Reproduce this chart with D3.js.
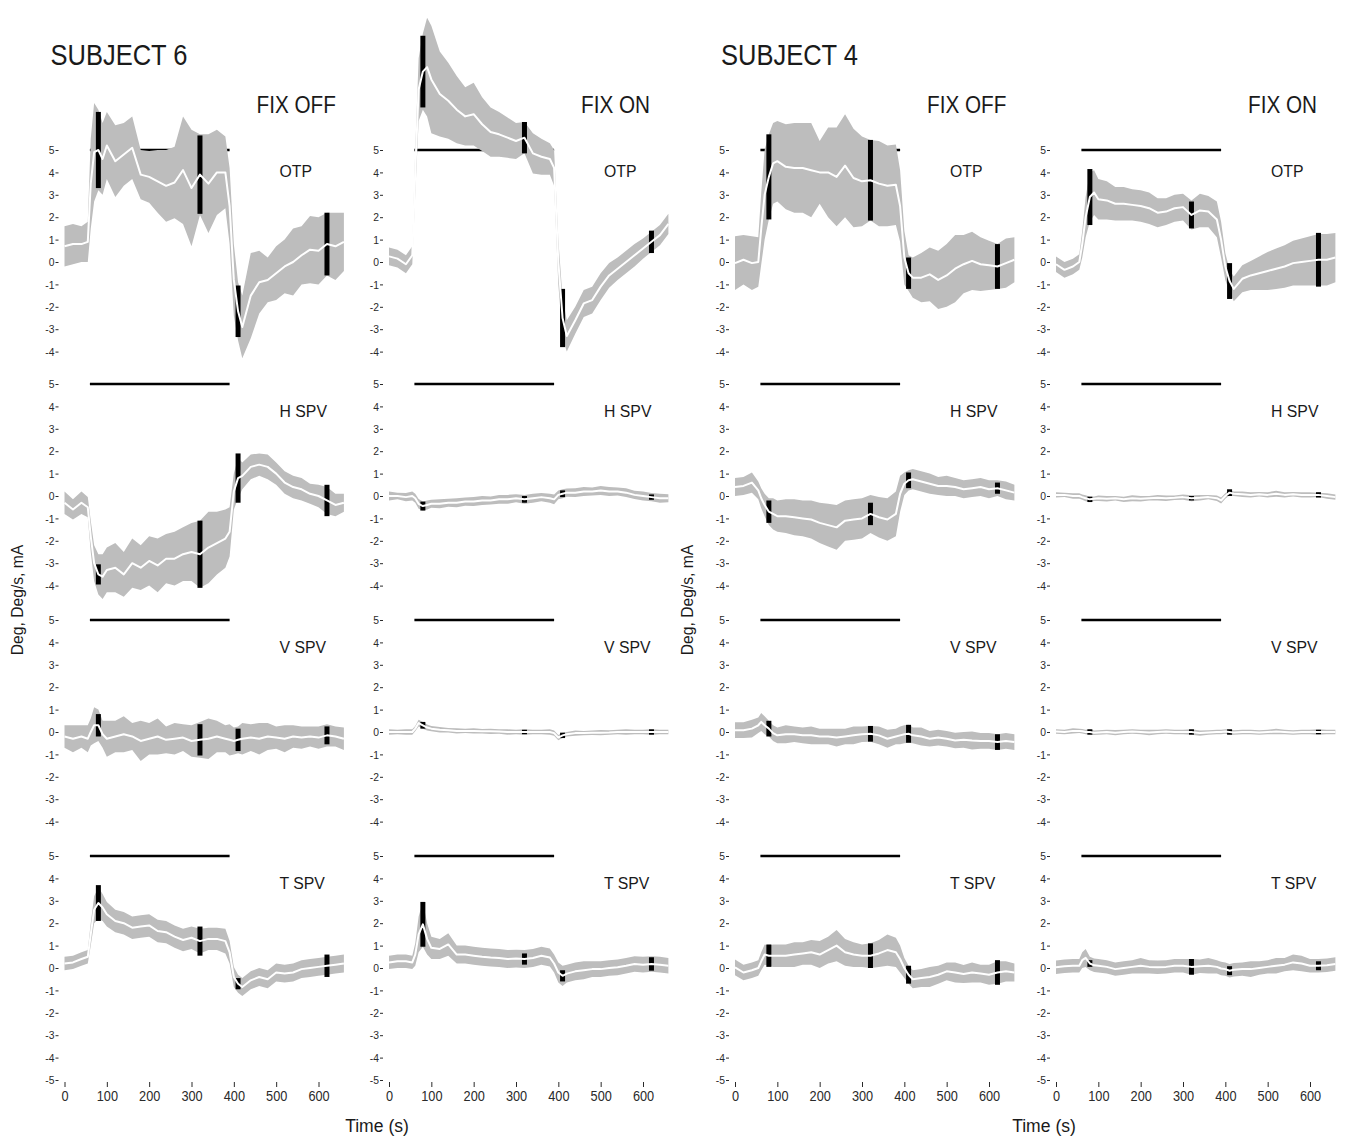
<!DOCTYPE html>
<html>
<head>
<meta charset="utf-8">
<script src="https://cdn.jsdelivr.net/npm/d3@7"></script>
<style>
  body { margin: 0; background: #fff; }
  svg { display: block; }
</style>
</head>
<body>
<div id="chart"></div>
<script>
// sample times (s), shared by every trace
const TIME = [0, 20, 40, 55, 62, 70, 80, 90, 100, 120, 140, 160, 180, 200, 220, 240, 260, 280, 300, 320,
  340, 360, 380, 390, 400, 410, 420, 440, 460, 480, 500, 520, 540, 560, 580, 600, 620, 640, 660];
// times at which the black SD bars are drawn (must be in TIME)
const BAR_TIMES = [80, 320, 410, 620];
const STIM = [60, 390];
const X_TICKS = [0, 100, 200, 300, 400, 500, 600];
const SUBJECTS = ['SUBJECT 6', 'SUBJECT 4'];
const CONDITIONS = ['FIX OFF', 'FIX ON', 'FIX OFF', 'FIX ON'];
const MEASURES = ['OTP', 'H SPV', 'V SPV', 'T SPV'];

// Subject 6, fixation off
const S6_OFF_OTP_MEAN = [0.7, 0.8, 0.8, 0.9, 3.5, 4.9, 5.0, 4.6, 5.2, 4.5, 4.8, 5.1, 3.9, 3.8, 3.6, 3.4, 3.55, 4.1, 3.3, 3.9, 3.5, 4.0, 4.0, 2.5, -0.8, -2.2, -2.9, -1.5, -0.9, -0.8, -0.5, -0.2, 0.0, 0.3, 0.55, 0.5, 0.8, 0.7, 0.9];
const S6_OFF_OTP_SD = [0.9, 0.9, 0.8, 0.9, 2.0, 2.2, 1.8, 1.6, 1.5, 1.6, 1.4, 1.4, 1.1, 1.15, 1.4, 1.6, 1.6, 2.4, 2.6, 1.8, 2.2, 1.9, 1.6, 1.7, 1.6, 1.3, 1.4, 1.9, 1.4, 1.0, 1.2, 1.2, 1.5, 1.3, 1.5, 1.5, 1.4, 1.5, 1.3];
const S6_OFF_OTP_BAR = [1.7, 1.75, 1.15, 1.4];
const S6_OFF_H_MEAN = [-0.3, -0.6, -0.3, -0.5, -1.8, -3.0, -3.5, -3.6, -3.3, -3.2, -3.5, -3.0, -3.2, -2.9, -3.1, -2.8, -2.8, -2.6, -2.5, -2.6, -2.3, -2.1, -1.9, -1.6, 0.2, 0.8, 0.9, 1.3, 1.4, 1.3, 1.0, 0.6, 0.4, 0.3, 0.1, 0.0, -0.2, -0.4, -0.3];
const S6_OFF_H_SD = [0.5, 0.45, 0.5, 0.45, 0.7, 0.8, 0.9, 1.0, 1.0, 1.1, 1.0, 1.1, 1.0, 1.1, 1.2, 1.1, 1.2, 1.2, 1.3, 1.5, 1.6, 1.4, 1.3, 1.1, 0.8, 0.9, 0.6, 0.55, 0.5, 0.55, 0.5, 0.5, 0.5, 0.5, 0.45, 0.5, 0.6, 0.5, 0.4];
const S6_OFF_H_BAR = [0.45, 1.5, 1.1, 0.7];
const S6_OFF_V_MEAN = [-0.2, -0.3, -0.2, -0.3, 0.0, 0.3, 0.3, -0.1, -0.3, -0.2, -0.1, -0.2, -0.4, -0.3, -0.2, -0.35, -0.3, -0.25, -0.4, -0.35, -0.3, -0.2, -0.3, -0.35, -0.4, -0.35, -0.3, -0.25, -0.3, -0.2, -0.25, -0.3, -0.2, -0.25, -0.2, -0.25, -0.15, -0.2, -0.3];
const S6_OFF_V_SD = [0.5, 0.6, 0.5, 0.6, 0.6, 0.8, 0.7, 0.6, 0.8, 0.7, 0.8, 0.6, 0.9, 0.7, 0.8, 0.6, 0.7, 0.6, 0.7, 0.8, 0.9, 0.7, 0.6, 0.7, 0.6, 0.6, 0.7, 0.6, 0.7, 0.6, 0.5, 0.6, 0.5, 0.5, 0.45, 0.5, 0.5, 0.45, 0.5];
const S6_OFF_V_BAR = [0.5, 0.7, 0.5, 0.4];
const S6_OFF_T_MEAN = [0.2, 0.25, 0.4, 0.5, 1.5, 2.6, 2.9, 2.7, 2.4, 2.1, 2.0, 1.8, 1.85, 1.9, 1.65, 1.6, 1.4, 1.25, 1.35, 1.2, 1.3, 1.3, 1.2, 0.7, -0.4, -0.7, -0.85, -0.55, -0.4, -0.5, -0.2, -0.25, -0.2, -0.05, 0.0, 0.05, 0.1, 0.15, 0.2];
const S6_OFF_T_SD = [0.3, 0.3, 0.3, 0.3, 0.5, 0.6, 0.7, 0.6, 0.55, 0.5, 0.5, 0.5, 0.5, 0.5, 0.5, 0.5, 0.5, 0.5, 0.5, 0.55, 0.5, 0.5, 0.55, 0.5, 0.45, 0.4, 0.4, 0.4, 0.4, 0.4, 0.4, 0.4, 0.4, 0.4, 0.4, 0.4, 0.4, 0.4, 0.4];
const S6_OFF_T_BAR = [0.8, 0.65, 0.25, 0.5];

// Subject 6, fixation on
const S6_ON_OTP_MEAN = [0.25, 0.15, -0.1, 0.3, 4.0, 7.7, 8.5, 8.7, 8.15, 7.5, 7.2, 6.8, 6.5, 6.6, 6.15, 5.8, 5.7, 5.55, 5.4, 5.55, 4.85, 4.7, 4.6, 4.2, 0.0, -2.5, -3.3, -2.6, -1.85, -1.7, -1.1, -0.6, -0.3, 0.0, 0.3, 0.6, 0.9, 1.2, 1.7];
const S6_ON_OTP_SD = [0.4, 0.4, 0.4, 0.4, 1.0, 1.4, 1.7, 2.2, 2.4, 1.9, 1.7, 1.5, 1.3, 1.4, 1.2, 1.1, 1.0, 0.9, 0.8, 0.7, 0.9, 0.8, 0.7, 0.8, 1.0, 0.9, 0.7, 0.6, 0.6, 0.6, 0.6, 0.55, 0.5, 0.5, 0.5, 0.45, 0.45, 0.45, 0.45];
const S6_ON_OTP_BAR = [1.6, 0.7, 1.3, 0.5];
const S6_ON_H_MEAN = [0.0, 0.0, -0.05, 0.0, -0.1, -0.35, -0.45, -0.4, -0.35, -0.35, -0.3, -0.3, -0.25, -0.25, -0.2, -0.2, -0.15, -0.15, -0.1, -0.15, -0.1, -0.05, -0.1, -0.15, 0.05, 0.1, 0.15, 0.15, 0.2, 0.2, 0.25, 0.2, 0.2, 0.15, 0.05, 0.0, -0.05, -0.1, -0.1];
const S6_ON_H_SD = [0.2, 0.15, 0.18, 0.2, 0.2, 0.22, 0.2, 0.2, 0.18, 0.2, 0.18, 0.2, 0.18, 0.2, 0.2, 0.18, 0.2, 0.2, 0.18, 0.2, 0.2, 0.18, 0.2, 0.22, 0.2, 0.2, 0.18, 0.2, 0.2, 0.18, 0.2, 0.2, 0.18, 0.2, 0.18, 0.2, 0.18, 0.2, 0.18];
const S6_ON_H_BAR = [0.2, 0.15, 0.15, 0.12];
const S6_ON_V_MEAN = [0.0, 0.0, 0.0, 0.0, 0.15, 0.4, 0.3, 0.2, 0.15, 0.1, 0.08, 0.05, 0.05, 0.05, 0.03, 0.03, 0.02, 0.0, 0.0, 0.0, 0.0, 0.0, 0.0, -0.05, -0.25, -0.15, -0.1, -0.05, -0.05, -0.03, -0.03, -0.02, 0.0, 0.0, 0.0, 0.0, 0.0, 0.0, 0.0];
const S6_ON_V_SD = [0.12, 0.1, 0.12, 0.12, 0.12, 0.15, 0.15, 0.13, 0.12, 0.12, 0.1, 0.12, 0.1, 0.12, 0.1, 0.12, 0.1, 0.12, 0.1, 0.12, 0.1, 0.1, 0.12, 0.12, 0.12, 0.12, 0.1, 0.12, 0.1, 0.1, 0.12, 0.1, 0.1, 0.12, 0.1, 0.1, 0.12, 0.1, 0.1];
const S6_ON_V_BAR = [0.15, 0.1, 0.12, 0.12];
const S6_ON_T_MEAN = [0.25, 0.3, 0.3, 0.25, 0.6, 1.5, 1.95, 1.3, 0.9, 0.85, 1.05, 0.6, 0.6, 0.55, 0.5, 0.47, 0.45, 0.4, 0.42, 0.4, 0.45, 0.55, 0.47, 0.2, -0.2, -0.35, -0.25, -0.15, -0.1, -0.05, -0.05, 0.0, 0.03, 0.1, 0.18, 0.15, 0.18, 0.15, 0.1];
const S6_ON_T_SD = [0.3, 0.3, 0.3, 0.3, 0.5, 0.8, 1.0, 0.7, 0.5, 0.45, 0.5, 0.4, 0.4, 0.4, 0.4, 0.4, 0.4, 0.4, 0.4, 0.4, 0.4, 0.4, 0.4, 0.4, 0.45, 0.45, 0.4, 0.4, 0.4, 0.35, 0.35, 0.35, 0.35, 0.35, 0.35, 0.35, 0.35, 0.35, 0.35];
const S6_ON_T_BAR = [1.0, 0.25, 0.25, 0.3];

// Subject 4, fixation off
const S4_OFF_OTP_MEAN = [-0.05, 0.1, -0.05, 0.0, 1.5, 3.0, 3.8, 4.4, 4.5, 4.25, 4.2, 4.2, 4.1, 4.0, 4.0, 3.8, 4.3, 3.75, 3.6, 3.65, 3.5, 3.4, 3.45, 2.5, 0.2, -0.5, -0.7, -0.7, -0.55, -0.8, -0.6, -0.3, -0.1, 0.05, -0.1, -0.15, -0.2, -0.05, 0.1];
const S4_OFF_OTP_SD = [1.2, 1.1, 1.2, 1.1, 1.6, 2.0, 1.9, 1.8, 1.8, 1.9, 2.0, 2.0, 2.1, 1.4, 2.0, 2.2, 2.3, 2.2, 2.0, 1.8, 1.9, 1.8, 1.8, 1.6, 1.2, 0.8, 0.9, 1.1, 1.2, 1.3, 1.4, 1.5, 1.3, 1.3, 1.2, 1.1, 1.0, 1.1, 1.0];
const S4_OFF_OTP_BAR = [1.9, 1.8, 0.7, 1.0];
const S4_OFF_H_MEAN = [0.4, 0.45, 0.6, 0.25, -0.1, -0.4, -0.7, -0.8, -0.9, -0.9, -0.95, -1.0, -1.05, -1.2, -1.3, -1.4, -1.1, -1.05, -1.0, -0.8, -0.95, -1.05, -0.8, 0.1, 0.55, 0.7, 0.75, 0.65, 0.55, 0.45, 0.45, 0.4, 0.3, 0.35, 0.4, 0.3, 0.35, 0.25, 0.15];
const S4_OFF_H_SD = [0.4, 0.4, 0.45, 0.4, 0.45, 0.5, 0.6, 0.7, 0.7, 0.75, 0.8, 0.8, 0.85, 0.9, 0.95, 1.0, 0.9, 0.9, 0.9, 0.85, 0.9, 0.95, 1.0, 0.8, 0.5, 0.45, 0.45, 0.45, 0.45, 0.4, 0.45, 0.4, 0.4, 0.4, 0.4, 0.4, 0.35, 0.4, 0.35];
const S4_OFF_H_BAR = [0.5, 0.5, 0.35, 0.25];
const S4_OFF_V_MEAN = [0.08, 0.08, 0.15, 0.3, 0.45, 0.3, 0.15, -0.05, -0.15, -0.1, -0.1, -0.15, -0.15, -0.2, -0.2, -0.25, -0.2, -0.15, -0.1, -0.08, -0.15, -0.3, -0.2, -0.15, -0.1, -0.08, -0.15, -0.2, -0.3, -0.25, -0.3, -0.38, -0.35, -0.38, -0.4, -0.4, -0.45, -0.4, -0.45];
const S4_OFF_V_SD = [0.35, 0.35, 0.4, 0.35, 0.4, 0.4, 0.35, 0.35, 0.35, 0.4, 0.35, 0.35, 0.4, 0.35, 0.35, 0.4, 0.35, 0.4, 0.35, 0.35, 0.4, 0.4, 0.35, 0.4, 0.4, 0.4, 0.35, 0.4, 0.35, 0.35, 0.35, 0.35, 0.35, 0.4, 0.35, 0.35, 0.35, 0.35, 0.35];
const S4_OFF_V_BAR = [0.35, 0.35, 0.4, 0.35];
const S4_OFF_T_MEAN = [0.03, -0.2, -0.1, 0.0, 0.3, 0.6, 0.55, 0.55, 0.55, 0.55, 0.6, 0.65, 0.7, 0.6, 0.8, 1.0, 0.7, 0.6, 0.55, 0.55, 0.65, 0.8, 0.7, 0.4, 0.0, -0.3, -0.5, -0.45, -0.4, -0.3, -0.15, -0.2, -0.27, -0.2, -0.25, -0.3, -0.2, -0.15, -0.2];
const S4_OFF_T_SD = [0.35, 0.35, 0.35, 0.35, 0.4, 0.45, 0.45, 0.5, 0.5, 0.5, 0.55, 0.5, 0.55, 0.6, 0.6, 0.7, 0.6, 0.55, 0.5, 0.55, 0.6, 0.7, 0.65, 0.6, 0.45, 0.4, 0.4, 0.4, 0.45, 0.4, 0.4, 0.45, 0.4, 0.45, 0.4, 0.45, 0.5, 0.45, 0.4];
const S4_OFF_T_BAR = [0.5, 0.55, 0.4, 0.55];

// Subject 4, fixation on
const S4_ON_OTP_MEAN = [-0.1, -0.35, -0.2, 0.0, 0.8, 2.0, 2.9, 3.1, 2.8, 2.75, 2.6, 2.6, 2.55, 2.5, 2.4, 2.2, 2.25, 2.4, 2.45, 2.1, 2.3, 2.25, 1.9, 1.0, -0.2, -0.85, -1.2, -0.75, -0.6, -0.5, -0.4, -0.3, -0.2, -0.05, 0.0, 0.05, 0.1, 0.1, 0.2];
const S4_ON_OTP_SD = [0.35, 0.35, 0.35, 0.35, 0.6, 0.9, 1.1, 1.0, 0.9, 0.85, 0.75, 0.75, 0.7, 0.7, 0.7, 0.65, 0.6, 0.6, 0.6, 0.65, 0.75, 0.7, 0.8, 0.8, 0.6, 0.5, 0.55, 0.6, 0.65, 0.75, 0.85, 0.9, 0.95, 1.0, 1.05, 1.1, 1.15, 1.15, 1.1];
const S4_ON_OTP_BAR = [1.25, 0.6, 0.8, 1.2];
const S4_ON_H_MEAN = [0.05, 0.05, 0.0, 0.0, -0.05, -0.1, -0.15, -0.12, -0.1, -0.12, -0.1, -0.15, -0.1, -0.12, -0.1, -0.08, -0.1, -0.08, -0.05, -0.1, -0.08, -0.05, -0.1, -0.2, 0.0, 0.15, 0.1, 0.08, 0.05, 0.08, 0.05, 0.1, 0.05, 0.08, 0.05, 0.05, 0.05, 0.0, -0.05];
const S4_ON_H_SD = [0.12, 0.1, 0.12, 0.12, 0.12, 0.13, 0.12, 0.1, 0.12, 0.12, 0.1, 0.12, 0.13, 0.12, 0.1, 0.12, 0.12, 0.1, 0.12, 0.13, 0.12, 0.1, 0.12, 0.13, 0.12, 0.12, 0.1, 0.12, 0.12, 0.1, 0.12, 0.13, 0.12, 0.1, 0.12, 0.12, 0.1, 0.12, 0.12];
const S4_ON_H_BAR = [0.12, 0.1, 0.15, 0.12];
const S4_ON_V_MEAN = [0.02, 0.0, 0.05, 0.05, 0.03, 0.0, 0.0, -0.03, -0.02, 0.0, -0.03, 0.0, 0.02, 0.0, -0.02, 0.0, 0.02, 0.0, 0.0, 0.0, -0.05, -0.02, 0.0, 0.0, 0.02, 0.0, -0.02, 0.0, 0.0, -0.02, 0.0, 0.02, 0.0, -0.02, 0.0, 0.0, 0.0, 0.0, 0.0];
const S4_ON_V_SD = [0.1, 0.1, 0.12, 0.1, 0.1, 0.1, 0.12, 0.1, 0.1, 0.1, 0.12, 0.1, 0.1, 0.1, 0.12, 0.1, 0.1, 0.1, 0.1, 0.12, 0.12, 0.1, 0.1, 0.1, 0.1, 0.12, 0.1, 0.1, 0.1, 0.1, 0.1, 0.12, 0.1, 0.1, 0.1, 0.1, 0.12, 0.1, 0.1];
const S4_ON_V_BAR = [0.12, 0.12, 0.12, 0.1];
const S4_ON_T_MEAN = [0.03, 0.08, 0.1, 0.1, 0.35, 0.45, 0.2, 0.12, 0.1, 0.05, -0.05, 0.0, 0.05, 0.1, 0.05, 0.03, 0.05, 0.1, 0.1, 0.05, 0.08, 0.1, 0.05, -0.02, -0.05, -0.12, -0.08, -0.05, -0.05, 0.0, 0.05, 0.1, 0.15, 0.25, 0.2, 0.1, 0.1, 0.12, 0.18];
const S4_ON_T_SD = [0.3, 0.3, 0.3, 0.3, 0.35, 0.4, 0.3, 0.3, 0.3, 0.3, 0.3, 0.3, 0.3, 0.35, 0.3, 0.3, 0.3, 0.3, 0.3, 0.35, 0.3, 0.35, 0.3, 0.3, 0.3, 0.3, 0.3, 0.3, 0.35, 0.3, 0.3, 0.35, 0.3, 0.35, 0.35, 0.3, 0.3, 0.3, 0.3];
const S4_ON_T_BAR = [0.15, 0.35, 0.2, 0.2];

// panels[col][row] = [mean, sd, bar half-lengths]
const PANELS = [
  [[S6_OFF_OTP_MEAN, S6_OFF_OTP_SD, S6_OFF_OTP_BAR], [S6_OFF_H_MEAN, S6_OFF_H_SD, S6_OFF_H_BAR],
   [S6_OFF_V_MEAN, S6_OFF_V_SD, S6_OFF_V_BAR], [S6_OFF_T_MEAN, S6_OFF_T_SD, S6_OFF_T_BAR]],
  [[S6_ON_OTP_MEAN, S6_ON_OTP_SD, S6_ON_OTP_BAR], [S6_ON_H_MEAN, S6_ON_H_SD, S6_ON_H_BAR],
   [S6_ON_V_MEAN, S6_ON_V_SD, S6_ON_V_BAR], [S6_ON_T_MEAN, S6_ON_T_SD, S6_ON_T_BAR]],
  [[S4_OFF_OTP_MEAN, S4_OFF_OTP_SD, S4_OFF_OTP_BAR], [S4_OFF_H_MEAN, S4_OFF_H_SD, S4_OFF_H_BAR],
   [S4_OFF_V_MEAN, S4_OFF_V_SD, S4_OFF_V_BAR], [S4_OFF_T_MEAN, S4_OFF_T_SD, S4_OFF_T_BAR]],
  [[S4_ON_OTP_MEAN, S4_ON_OTP_SD, S4_ON_OTP_BAR], [S4_ON_H_MEAN, S4_ON_H_SD, S4_ON_H_BAR],
   [S4_ON_V_MEAN, S4_ON_V_SD, S4_ON_V_BAR], [S4_ON_T_MEAN, S4_ON_T_SD, S4_ON_T_BAR]]
];

const WIDTH = 1345, HEIGHT = 1138;
const COL_X = [64.5, 389, 735, 1056];   // x of t = 0 in each column
const ROW_Y = [150, 384, 620, 856];     // y of value 5 in each row
const X_SPAN = 254, Y_SPAN = 224;
const FONT = "'Liberation Sans', Arial, Helvetica, sans-serif";
const COLORS = { band: '#bdbdbd', mean: '#ffffff', bar: '#000000', text: '#1a1a1a', tick: '#2a2a2a' };

const svg = d3.select('#chart').append('svg')
  .attr('width', WIDTH)
  .attr('height', HEIGHT)
  .attr('viewBox', [0, 0, WIDTH, HEIGHT])
  .style('font-family', FONT);

svg.append('rect').attr('width', WIDTH).attr('height', HEIGHT).attr('fill', '#fff');

// narrow-looking text: squeeze horizontally
const addText = (parent, x, y, txt, size, sx, anchor = 'start', rot = 0) => {
  return parent.append('text')
    .attr('transform', `translate(${x},${y}) rotate(${rot}) scale(${sx},1)`)
    .attr('text-anchor', anchor)
    .attr('fill', COLORS.text)
    .style('font-size', size + 'px')
    .text(txt);
};

PANELS.forEach((col, ci) => {
  const x = d3.scaleLinear().domain([0, 600]).range([COL_X[ci], COL_X[ci] + X_SPAN]);

  col.forEach(([mean, sd, bars], ri) => {
    const y = d3.scaleLinear().domain([5, -5]).range([ROW_Y[ri], ROW_Y[ri] + Y_SPAN]);
    const g = svg.append('g');
    const pts = TIME.map((t, i) => ({ t, m: mean[i], s: sd[i] }));

    // y axis
    const ticks = ri === 3 ? d3.range(5, -6, -1) : d3.range(5, -5, -1);
    const yAxis = g.append('g')
      .attr('transform', `translate(${COL_X[ci] - 6},0)`)
      .call(d3.axisLeft(y).tickValues(ticks).tickSize(3).tickPadding(1.5).tickFormat(d => String(d)));
    yAxis.select('.domain').remove();
    yAxis.selectAll('line').attr('stroke', COLORS.tick);
    yAxis.selectAll('text')
      .attr('fill', COLORS.tick)
      .attr('transform', 'scale(0.9,1)')
      .style('font-size', '11.5px')
      .style('font-family', FONT);

    // stimulus period bar at +5
    g.append('line')
      .attr('x1', x(STIM[0])).attr('x2', x(STIM[1]))
      .attr('y1', y(5)).attr('y2', y(5))
      .attr('stroke', '#000').attr('stroke-width', 2.5);

    // +/- SD band
    g.append('path')
      .datum(pts)
      .attr('fill', COLORS.band)
      .attr('d', d3.area().x(d => x(d.t)).y0(d => y(d.m - d.s)).y1(d => y(d.m + d.s)));

    // SD bars at selected times
    g.selectAll('.sdbar')
      .data(BAR_TIMES.map((t, k) => ({ t, m: mean[TIME.indexOf(t)], h: bars[k] })))
      .join('line')
      .attr('class', 'sdbar')
      .attr('x1', d => x(d.t)).attr('x2', d => x(d.t))
      .attr('y1', d => y(d.m + d.h)).attr('y2', d => y(d.m - d.h))
      .attr('stroke', COLORS.bar).attr('stroke-width', 5);

    // mean trace
    g.append('path')
      .datum(pts)
      .attr('fill', 'none')
      .attr('stroke', COLORS.mean)
      .attr('stroke-width', 2)
      .attr('stroke-linejoin', 'round')
      .attr('d', d3.line().x(d => x(d.t)).y(d => y(d.m)));

    // measure label
    addText(g, COL_X[ci] + 215, ROW_Y[ri] + (ri === 0 ? 27 : 33), MEASURES[ri], 17, 0.93);

    // time axis on the bottom row
    if (ri === 3) {
      const xAxis = g.append('g')
        .attr('transform', `translate(0,${ROW_Y[ri] + Y_SPAN + 2})`)
        .call(d3.axisBottom(x).tickValues(X_TICKS).tickSize(5).tickPadding(3));
      xAxis.select('.domain').remove();
      xAxis.selectAll('line').attr('stroke', COLORS.tick);
      xAxis.selectAll('text')
        .attr('fill', COLORS.tick)
        .attr('transform', 'scale(0.85,1)')
        .style('font-size', '15px')
        .style('font-family', FONT);
    }
  });

  // condition title
  addText(svg, COL_X[ci] + 192, 113, CONDITIONS[ci], 23, 0.9);
});

// subject titles, axis titles
SUBJECTS.forEach((s, k) => {
  const c = k * 2;
  addText(svg, COL_X[c] - 14, 65, s, 30, 0.85);
  addText(svg, COL_X[c] - 42, 600, 'Deg, Deg/s, mA', 16.5, 0.95, 'middle', -90);
  addText(svg, COL_X[c + 1] - 12, 1132, 'Time (s)', 18.5, 0.95, 'middle');
});
</script>
</body>
</html>
